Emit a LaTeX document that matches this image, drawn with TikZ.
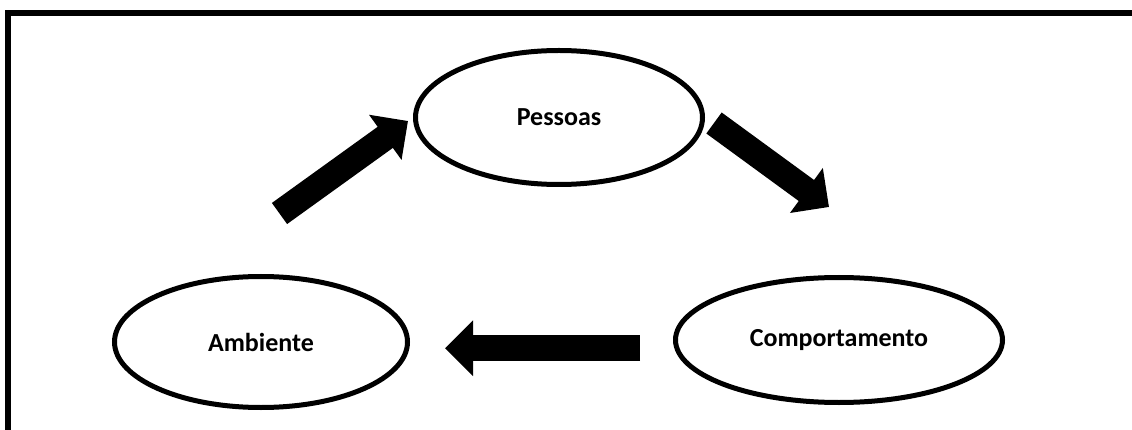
\documentclass[tikz,border=0pt]{standalone}
\usepackage{fontspec}
\setmainfont{Carlito}
\usetikzlibrary{shapes.geometric,arrows.meta}
\tikzset{
  elipse/.style={draw,ellipse,line width=5pt,inner sep=0pt,font=\fontsize{26}{30}\selectfont\bfseries},
  seta/.style={line width=26pt,-{Triangle[width=54pt,length=28pt]}}
}
\begin{document}
\begin{tikzpicture}[x=1pt,y=-1pt]
    \useasboundingbox (0,0) rectangle (1132,430);
    \draw[line width=6pt] (8,440) -- (8,13) -- (1140,13); %moldura
    \node[elipse,minimum width=287pt,minimum height=134pt] (pes) at (559,117.5) {Pessoas};
    \node[elipse,minimum width=293pt,minimum height=131pt] (amb) at (261,342) {Ambiente};
    \node[elipse,minimum width=327pt,minimum height=125pt] (com) at (839,340) {Comportamento};
    \coordinate (amb-s) at (279.5,213.5); %saida ambiente
    \coordinate (pes-e) at (408,121);
    \coordinate (pes-s) at (714,123); %saida pessoas
    \coordinate (com-e) at (829,207);
    \coordinate (com-s) at (640,348.3); %saida comportamento
    \coordinate (amb-e) at (445,348.3);
    \draw[seta] (amb-s) -- (pes-e);
    \draw[seta] (pes-s) -- (com-e);
    \draw[seta] (com-s) -- (amb-e);
\end{tikzpicture}
\end{document}
